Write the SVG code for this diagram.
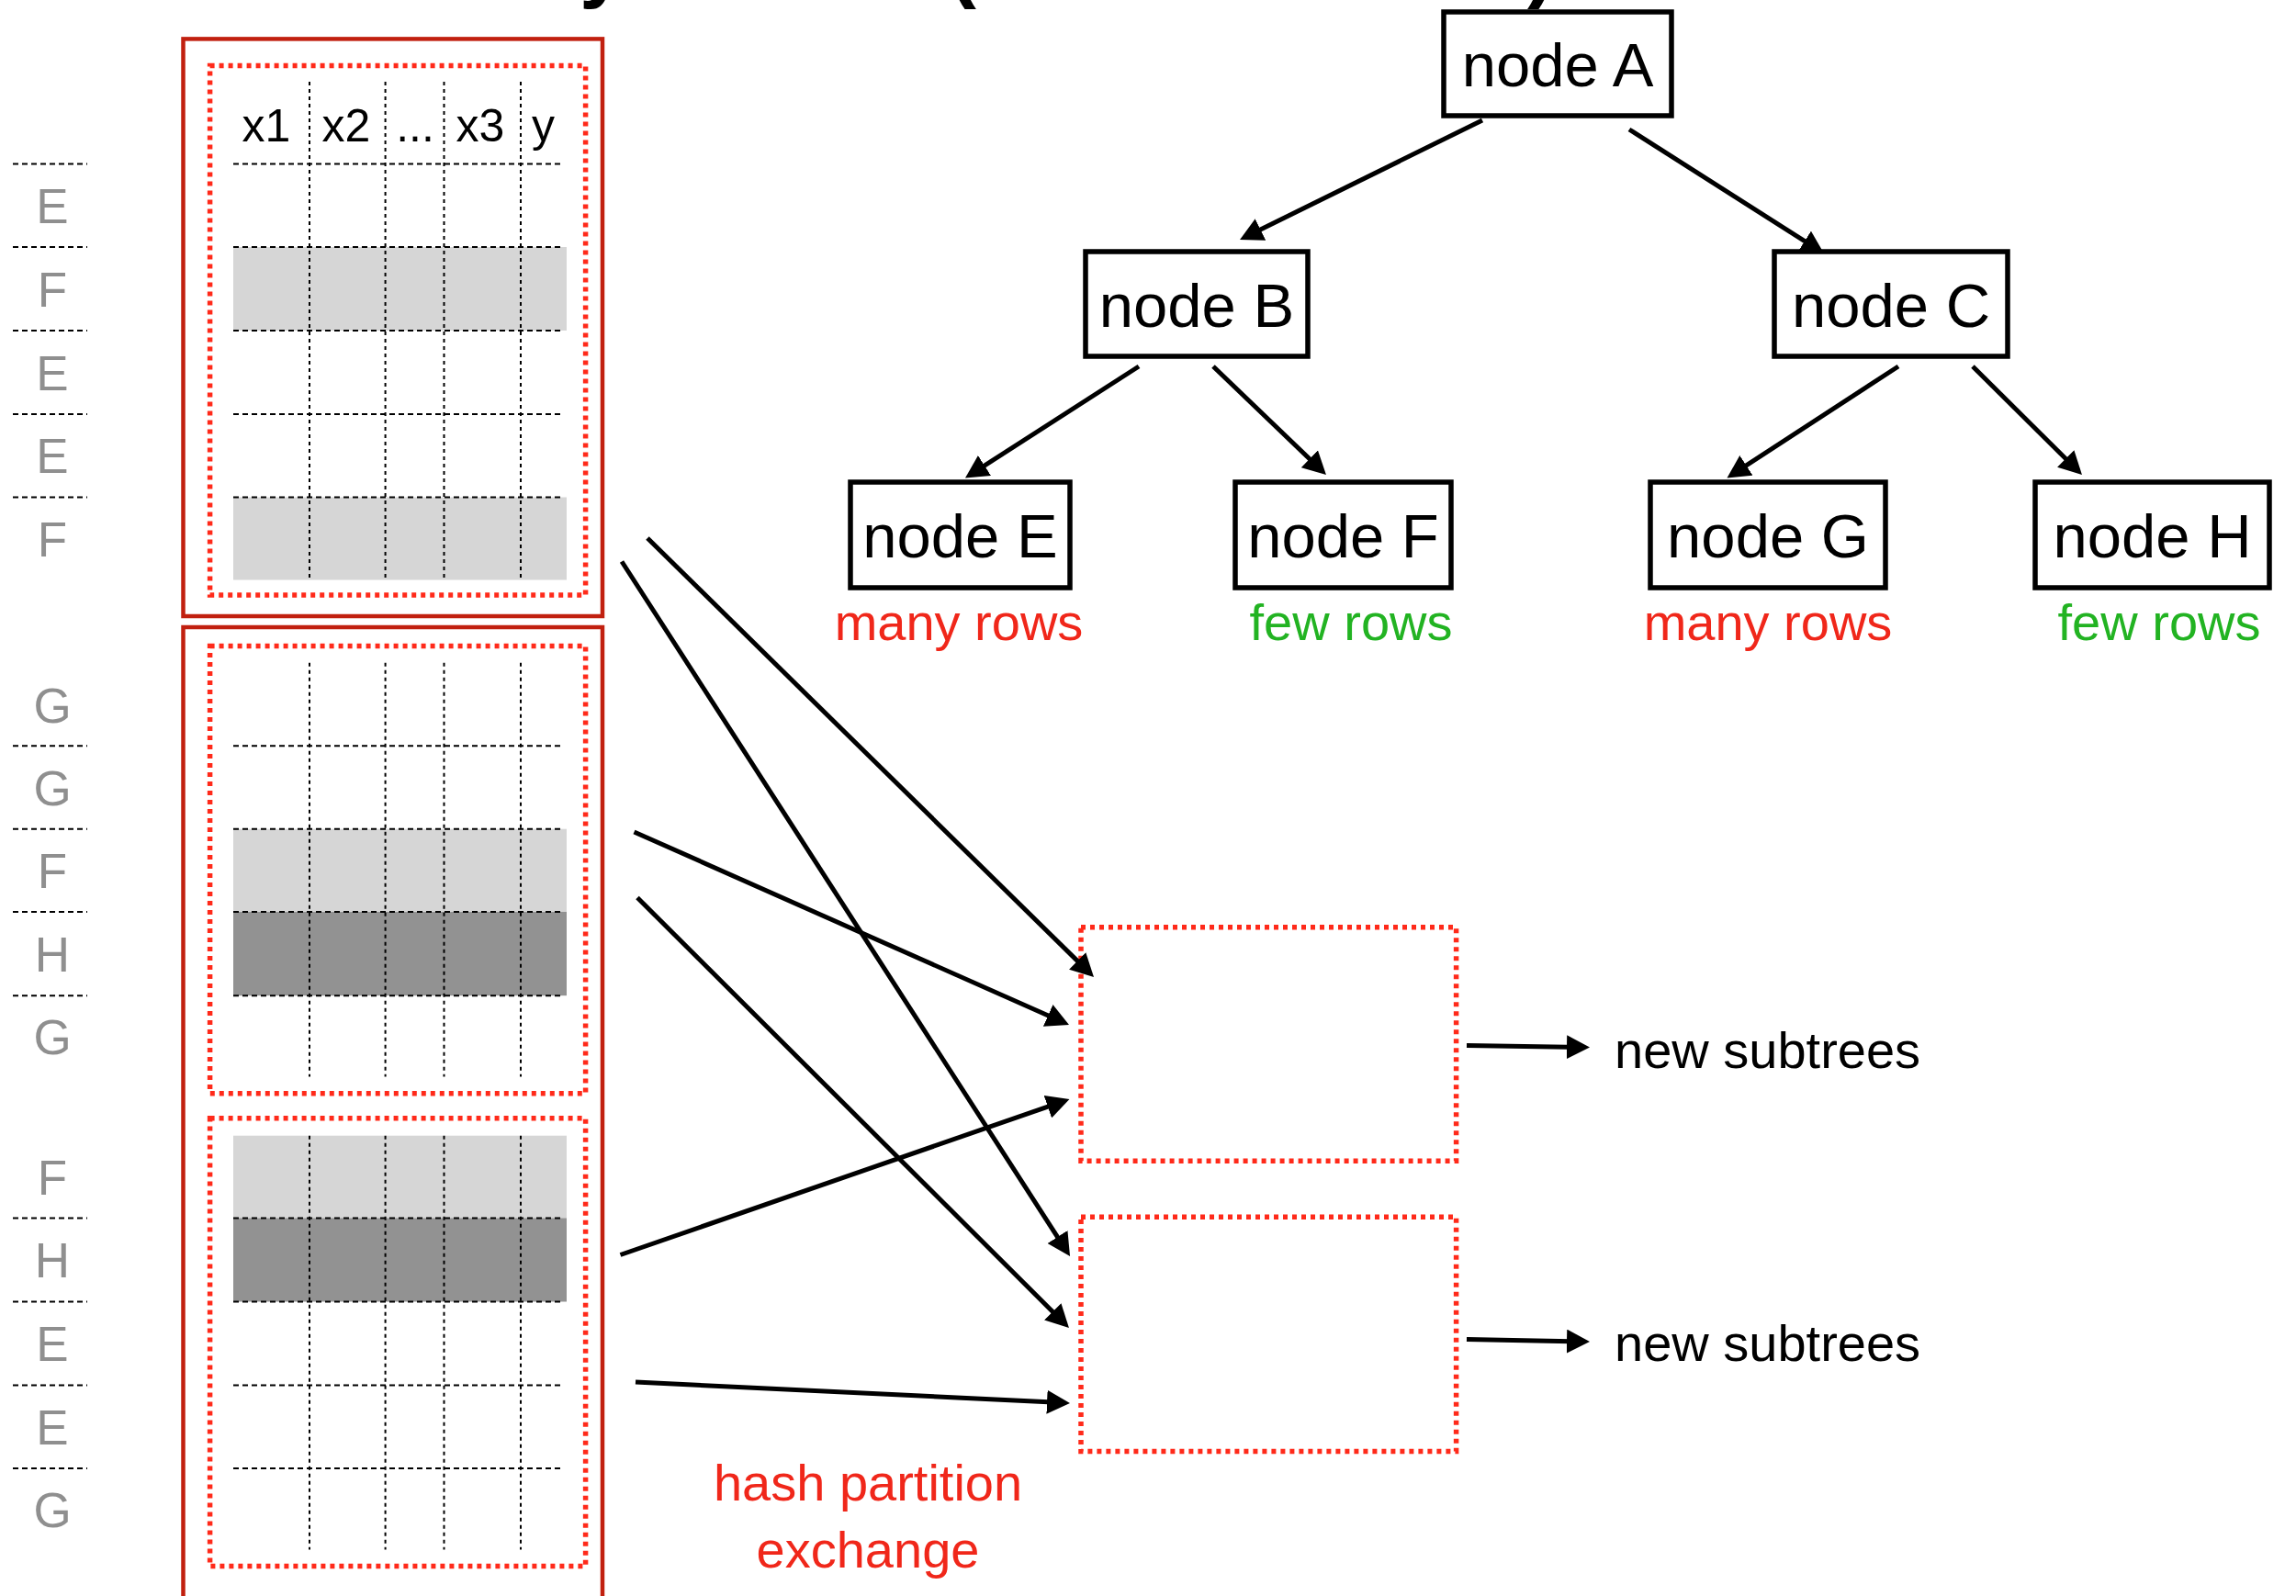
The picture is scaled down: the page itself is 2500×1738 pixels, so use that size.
<svg xmlns="http://www.w3.org/2000/svg" width="2500" height="1738" viewBox="0 0 2500 1738">
<defs>
<style>
.bg{fill:#fff}
.title{font-family:"Liberation Sans",Arial,sans-serif;font-weight:bold;font-size:90px;fill:#000}
.outer{fill:none;stroke:#c1200f;stroke-width:4.5}
.dot{fill:none;stroke:#ff2a1a;stroke-width:5.5;stroke-dasharray:5 5}
.hg{stroke:#000;stroke-width:2;stroke-dasharray:6 4;fill:none}
.vg{stroke:#000;stroke-width:2;stroke-dasharray:4 4;fill:none}
.lt{fill:#d6d6d6}
.dk{fill:#929292}
.hdr{font-family:"Liberation Sans",Arial,sans-serif;font-size:50px;fill:#000;text-anchor:middle}
.lab{font-family:"Liberation Sans",Arial,sans-serif;font-size:53px;fill:#8f8f8f;text-anchor:middle}
.node rect{fill:#fff;stroke:#000;stroke-width:5.5}
.node text{font-family:"Liberation Sans",Arial,sans-serif;font-size:67px;fill:#000;text-anchor:middle}
.red{font-family:"Liberation Sans",Arial,sans-serif;font-size:56px;fill:#f0271a;text-anchor:middle}
.grn{font-family:"Liberation Sans",Arial,sans-serif;font-size:56px;fill:#22b322;text-anchor:middle}
.blk{font-family:"Liberation Sans",Arial,sans-serif;font-size:56px;fill:#000}
.conn path{fill:none;stroke:#000;stroke-width:5;marker-end:url(#ah)}
</style>
<marker id="ah" markerUnits="userSpaceOnUse" markerWidth="26" markerHeight="26" refX="17" refY="13" orient="auto">
<path d="M0,0 L25,13 L0,26 z" fill="#000"/>
</marker>
</defs>
<rect class="bg" x="0" y="0" width="2500" height="1738"/>

<g id="title-fragments">
<text class="title" x="631" y="-9">y</text>
<text class="title" x="1033" y="-9">(</text>
<text class="title" x="1663" y="-9">)</text>
</g>

<g id="row-labels">
<g class="hg">
<path d="M14,178.6H95M14,269H95M14,360H95M14,451H95M14,541.5H95"/>
<path d="M14,812.3H95M14,902.7H95M14,993H95M14,1084.2H95"/>
<path d="M14,1326.4H95M14,1417.5H95M14,1508.6H95M14,1599H95"/>
</g>
<text class="lab" x="57" y="243">E</text>
<text class="lab" x="57" y="333.5">F</text>
<text class="lab" x="57" y="424.5">E</text>
<text class="lab" x="57" y="515">E</text>
<text class="lab" x="57" y="606">F</text>
<text class="lab" x="57" y="786.5">G</text>
<text class="lab" x="57" y="877">G</text>
<text class="lab" x="57" y="967">F</text>
<text class="lab" x="57" y="1057.5">H</text>
<text class="lab" x="57" y="1148">G</text>
<text class="lab" x="57" y="1300.5">F</text>
<text class="lab" x="57" y="1391">H</text>
<text class="lab" x="57" y="1482">E</text>
<text class="lab" x="57" y="1572.8">E</text>
<text class="lab" x="57" y="1663.3">G</text>
</g>

<g id="partition-1">
<rect class="outer" x="199.5" y="42.4" width="456.5" height="628.6"/>
<rect class="dot" x="228.6" y="71.4" width="409" height="576.6"/>
<rect class="lt" x="254" y="269" width="363" height="91"/>
<rect class="lt" x="254" y="541.5" width="363" height="90"/>
<text class="hdr" x="290" y="154">x1</text>
<text class="hdr" x="377" y="154">x2</text>
<text class="hdr" x="452" y="154">...</text>
<text class="hdr" x="523" y="154">x3</text>
<text class="hdr" x="591.5" y="154">y</text>
<path class="hg" d="M254,178.6H612.5M254,269H612.5M254,360H612.5M254,451H612.5M254,541.5H612.5"/>
<path class="vg" d="M337,89V629M419.6,89V629M483.5,89V629M567,89V629"/>
</g>

<g id="partition-2">
<rect class="outer" x="199.5" y="683" width="456.5" height="1100"/>
<rect class="dot" x="228.6" y="703.6" width="409" height="487.2"/>
<rect class="lt" x="254" y="902.7" width="363" height="90.3"/>
<rect class="dk" x="254" y="993" width="363" height="91.2"/>
<path class="hg" d="M254,812.3H612.5M254,902.7H612.5M254,993H612.5M254,1084.2H612.5"/>
<path class="vg" d="M337,721.8V1172.6M419.6,721.8V1172.6M483.5,721.8V1172.6M567,721.8V1172.6"/>
<rect class="dot" x="228.6" y="1217.8" width="409" height="487.8"/>
<rect class="lt" x="254" y="1236.7" width="363" height="89.7"/>
<rect class="dk" x="254" y="1326.4" width="363" height="91.1"/>
<path class="hg" d="M254,1326.4H612.5M254,1417.5H612.5M254,1508.6H612.5M254,1599H612.5"/>
<path class="vg" d="M337,1236.7V1687.4M419.6,1236.7V1687.4M483.5,1236.7V1687.4M567,1236.7V1687.4"/>
</g>

<g id="exchange-1"><rect class="dot" x="1177" y="1009.8" width="408.6" height="254.4"/></g>
<g id="exchange-2"><rect class="dot" x="1177" y="1325.3" width="408.6" height="255.2"/></g>

<g id="node-A" class="node"><rect x="1572" y="13" width="248" height="113"/><text x="1696" y="94">node A</text></g>
<g id="node-B" class="node"><rect x="1182" y="274" width="242" height="114"/><text x="1303" y="355.5">node B</text></g>
<g id="node-C" class="node"><rect x="1932" y="274" width="254" height="114"/><text x="2059" y="355.5">node C</text></g>
<g id="node-E" class="node"><rect x="926" y="525" width="239" height="115"/><text x="1045.5" y="606.5">node E</text></g>
<g id="node-F" class="node"><rect x="1345" y="525" width="235" height="115"/><text x="1462.5" y="606.5">node F</text></g>
<g id="node-G" class="node"><rect x="1797" y="525" width="256" height="115"/><text x="1925" y="606.5">node G</text></g>
<g id="node-H" class="node"><rect x="2216" y="525" width="255" height="115"/><text x="2343.5" y="606.5">node H</text></g>

<g id="annotations">
<text class="red" x="1044" y="697">many rows</text>
<text class="grn" x="1471" y="697">few rows</text>
<text class="red" x="1925" y="697">many rows</text>
<text class="grn" x="2351" y="697">few rows</text>
<text class="red" x="945" y="1634">hash partition</text>
<text class="red" x="945" y="1707">exchange</text>
<text class="blk" x="1758" y="1162.5">new subtrees</text>
<text class="blk" x="1758" y="1482">new subtrees</text>
</g>

<g id="connectors" class="conn">
<path d="M1614,131L1357.2,257.5"/>
<path d="M1774,141L1979.3,271.7"/>
<path d="M1240,399L1057.7,516.2"/>
<path d="M1321,399L1438.2,511.5"/>
<path d="M2067,399L1887.2,516.1"/>
<path d="M2148,399L2261.3,511.4"/>
<path d="M705,586L1185.3,1058.4"/>
<path d="M677,611.5L1160.7,1361.3"/>
<path d="M690.5,906L1156.7,1112.8"/>
<path d="M694,977.5L1158.3,1440.4"/>
<path d="M675.5,1366.5L1156.9,1199.6"/>
<path d="M692,1505L1157,1527.6"/>
<path d="M1597,1138.5L1723,1140.4"/>
<path d="M1597,1458.5L1723,1460.9"/>
</g>
</svg>
